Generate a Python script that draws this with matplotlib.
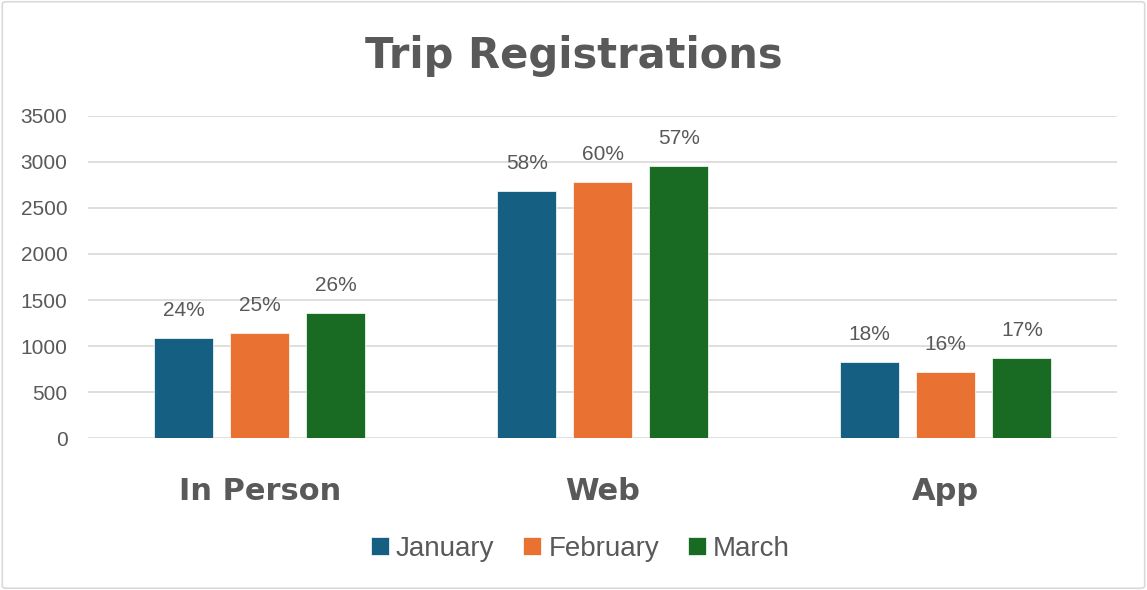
import matplotlib.pyplot as plt
import numpy as np
from matplotlib.patches import FancyBboxPatch

categories = ['In Person', 'Web', 'App']
months = ['January', 'February', 'March']
january = [1090, 2680, 830]
february = [1140, 2780, 720]
march = [1360, 2950, 870]
jan_labels = ['24%', '58%', '18%']
feb_labels = ['25%', '60%', '16%']
mar_labels = ['26%', '57%', '17%']

colors = ['#155F82', '#E97132', '#196B24']
text_color = '#595959'

plt.rcParams['font.family'] = ['Liberation Sans', 'DejaVu Sans']

fig = plt.figure(figsize=(11.47, 5.9), dpi=100)
ax = fig.add_axes([0.077, 0.257, 0.897, 0.547])

# chart border
fig.patches.append(FancyBboxPatch((0.002, 0.003), 0.996, 0.994,
                                  boxstyle='round,pad=0,rounding_size=0.004',
                                  transform=fig.transFigure, fill=False,
                                  edgecolor='#D9D9D9', linewidth=1.2))

x = np.arange(len(categories))
w = 0.172
step = 0.222
series = [january, february, march]
labels = [jan_labels, feb_labels, mar_labels]
for i, (vals, lbls) in enumerate(zip(series, labels)):
    bars = ax.bar(x + (i - 1) * step, vals, w, color=colors[i],
                  label=months[i], zorder=3, edgecolor='white', linewidth=0.5)
    ax.bar_label(bars, labels=lbls, padding=13, fontsize=15, color=text_color)

ax.set_xlim(-0.5, 2.5)
ax.set_ylim(0, 3500)
ax.set_yticks(range(0, 3501, 500))
ax.grid(axis='y', color='#D9D9D9', linewidth=1.2, zorder=0)
for s in ax.spines.values():
    s.set_visible(False)
ax.tick_params(axis='y', length=0, labelsize=15, labelcolor=text_color, pad=15)
ax.tick_params(axis='x', length=0, pad=28)
ax.set_xticks(x)
ax.set_xticklabels(categories, fontsize=22, fontweight='bold', color=text_color,
                   family='DejaVu Sans')

fig.text(0.5, 0.905, 'Trip Registrations', ha='center', va='center',
         fontsize=30, fontweight='bold', color=text_color, family='DejaVu Sans')

leg = fig.legend(loc='center', bbox_to_anchor=(0.506, 0.07), ncol=3, frameon=False,
                 fontsize=20, handlelength=0.65, handleheight=0.65,
                 handletextpad=0.25, columnspacing=1.05)
for t in leg.get_texts():
    t.set_color(text_color)

fig.savefig('out.png', dpi=100)
